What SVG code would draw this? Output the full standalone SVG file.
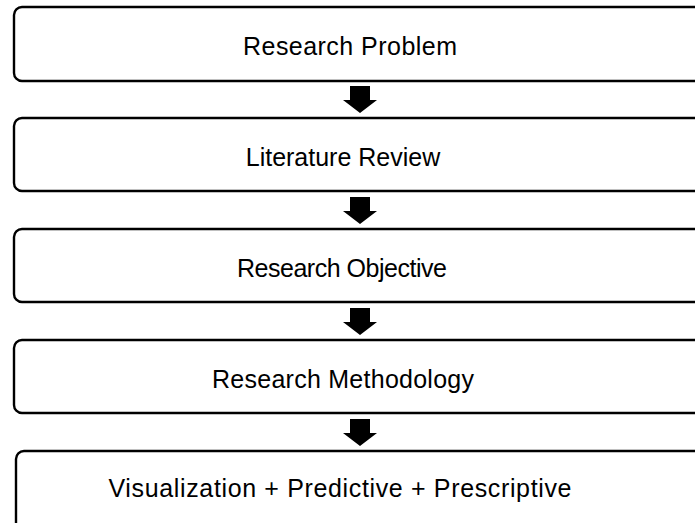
<svg xmlns="http://www.w3.org/2000/svg" width="695" height="523" viewBox="0 0 695 523">
  <defs>
    <style>
      .box { fill: #ffffff; stroke: #000000; stroke-width: 2.4; }
      .label { font-family: "Liberation Sans", Arial, sans-serif; font-size: 25px; fill: #000000; text-anchor: middle; }
      .arrow { fill: #000000; }
    </style>
    <!-- block down-arrow used between stages -->
    <path id="down" class="arrow" d="M -10 0 H 10 V 14 H 17 L 0 27 L -17 14 H -10 Z"/>
  </defs>
  <rect width="695" height="523" fill="#ffffff"/>

  <g id="connectors">
    <use href="#down" x="360" y="86"/>
    <use href="#down" x="360" y="197"/>
    <use href="#down" x="360" y="308"/>
    <use href="#down" x="360" y="419"/>
  </g>

  <g id="research-problem">
    <rect class="box" x="14" y="7" width="700" height="74" rx="8"/>
    <text class="label" x="350" y="55" textLength="214">Research Problem</text>
  </g>
  <g id="literature-review">
    <rect class="box" x="14" y="118" width="700" height="73" rx="8"/>
    <text class="label" x="343" y="166">Literature Review</text>
  </g>
  <g id="research-objective">
    <rect class="box" x="14" y="229" width="700" height="73" rx="8"/>
    <text class="label" x="342" y="277" textLength="210">Research Objective</text>
  </g>
  <g id="research-methodology">
    <rect class="box" x="14" y="340" width="700" height="73" rx="8"/>
    <text class="label" x="343" y="388" textLength="262">Research Methodology</text>
  </g>
  <g id="visualization">
    <rect class="box" x="16" y="451" width="700" height="80" rx="8"/>
    <text class="label" x="340" y="497" textLength="463">Visualization + Predictive + Prescriptive</text>
  </g>
</svg>
